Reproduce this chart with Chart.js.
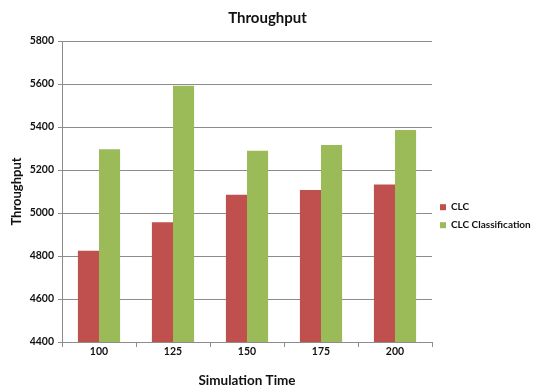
<!DOCTYPE html>
<html>
<head>
<meta charset="utf-8">
<script src="https://cdn.jsdelivr.net/npm/chart.js@4.4.1/dist/chart.umd.min.js"></script>
<style>
  html, body { margin: 0; padding: 0; background: #fff; }
  #wrap { width: 535px; height: 390px; }
</style>
</head>
<body>
<div id="wrap"><canvas id="throughputChart" width="535" height="390"></canvas></div>
<script>
const simTimes = ["100", "125", "150", "175", "200"];
const clcValues = [4825, 4957, 5085, 5107, 5133];
const clcClassValues = [5296, 5592, 5290, 5316, 5386];
const yMin = 4400;
const yMax = 5800;
const yStep = 200;

const FONT = "Lato, 'Open Sans', sans-serif";
const gridColor = "#8c8c8c";
const textColor = "#111";

const ctx = document.getElementById("throughputChart").getContext("2d");

new Chart(ctx, {
  type: "bar",
  data: {
    labels: simTimes,
    datasets: [
      { label: "CLC", data: clcValues, backgroundColor: "#c0504d" },
      { label: "CLC Classification", data: clcClassValues, backgroundColor: "#9bbb59" }
    ]
  },
  options: {
    responsive: false,
    animation: false,
    layout: { padding: 0 },
    datasets: { bar: { categoryPercentage: 0.57, barPercentage: 1.0 } },
    plugins: {
      title: {
        display: true,
        text: "Throughput",
        color: textColor,
        font: { family: FONT, size: 15, weight: "bold" },
        padding: { top: 9, bottom: 14 }
      },
      legend: {
        position: "right",
        maxWidth: 103,
        title: { display: true, text: "", padding: { top: 18, bottom: 10 } },
        labels: {
          boxWidth: 6,
          boxHeight: 6,
          padding: 8,
          color: textColor,
          font: { family: FONT, size: 10, weight: "bold" }
        }
      },
      tooltip: { enabled: false }
    },
    scales: {
      x: {
        afterFit: scale => { scale.height = 48; },
        grid: { drawOnChartArea: false, drawTicks: true, tickLength: 5, color: gridColor },
        border: { color: gridColor },
        ticks: { color: textColor, padding: -2, font: { family: FONT, size: 10.5, weight: "bold" } },
        title: {
          display: true,
          text: "Simulation Time",
          color: textColor,
          font: { family: FONT, size: 13.5, weight: "bold" },
          padding: { top: 0, bottom: 1 }
        }
      },
      y: {
        min: yMin,
        max: yMax,
        afterFit: scale => { scale.width = 62; },
        grid: { color: gridColor, tickLength: 4 },
        border: { color: gridColor },
        ticks: {
          stepSize: yStep,
          color: textColor,
          padding: 4,
          font: { family: FONT, size: 10.5, weight: "bold" },
          callback: value => String(value)
        },
        title: {
          display: true,
          text: "Throughput",
          color: textColor,
          font: { family: FONT, size: 13, weight: "bold" },
          padding: { top: 9, bottom: 0 }
        }
      }
    }
  }
});
</script>
</body>
</html>
